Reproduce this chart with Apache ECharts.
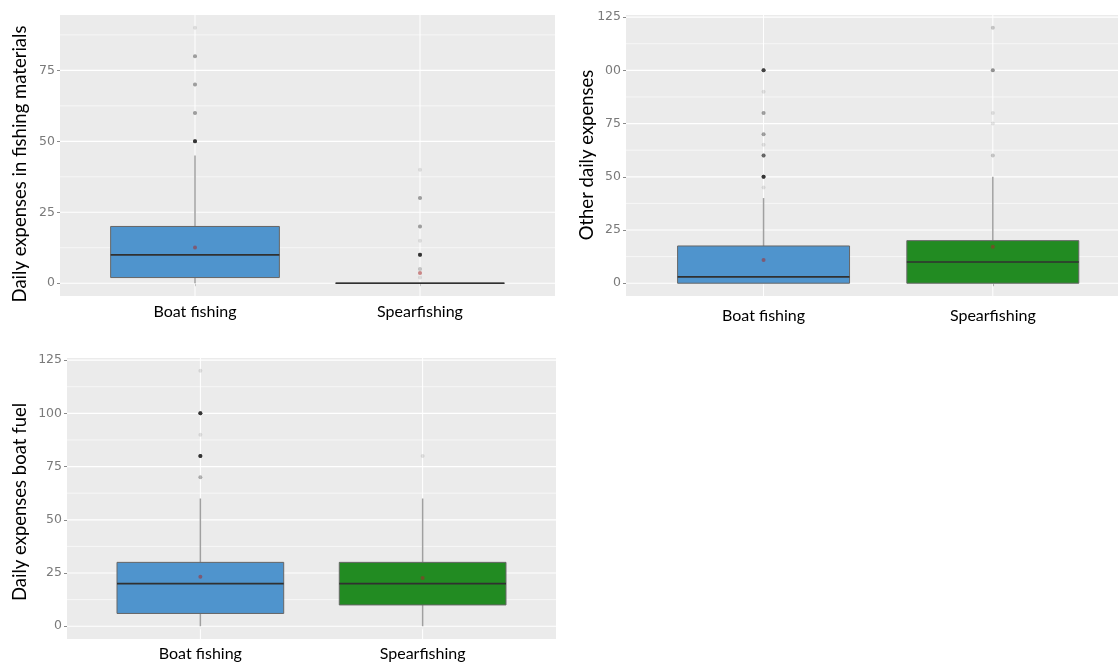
<!DOCTYPE html>
<html><head><meta charset="utf-8">
<script src="https://cdn.jsdelivr.net/npm/echarts@6/dist/echarts.min.js"></script>
<style>html,body{margin:0;padding:0;background:#fff}#c{width:1118px;height:663px}</style>
</head><body><div id="c"></div><script>
// ---------- DATA ----------
const categories = ['Boat fishing', 'Spearfishing'];

const yTicksMaterials = [0, 25, 50, 75];
const yTicksOther = [0, 25, 50, 75, 100, 125];
const yTicksFuel = [0, 25, 50, 75, 100, 125];

// box stats per category: [lower whisker, Q1, median, Q3, upper whisker]
const materialsBoat = [0, 2, 10, 20, 45];
const materialsSpear = [0, 0, 0, 0, 0];
const otherBoat = [0, 0, 3, 17.5, 40];
const otherSpear = [0, 0, 10, 20, 50];
const fuelBoat = [0, 6, 20, 30, 60];
const fuelSpear = [0, 10, 20, 30, 60];

// group means [Boat fishing, Spearfishing]
const meansMaterials = [12.6, 3.6];
const meansOther = [10.9, 17.1];
const meansFuel = [23.2, 22.6];

// outliers: values and number of overlapping observations (estimated from darkness)
const materialsBoatOutliers = [50, 60, 70, 80, 90];
const materialsBoatCounts   = [14, 4, 4, 4, 1];
const materialsSpearOutliers = [40, 30, 20, 15, 10, 5, 2];
const materialsSpearCounts   = [1, 4, 4, 1, 14, 2, 1];
const otherBoatOutliers = [100, 90, 80, 70, 65, 60, 50, 45];
const otherBoatCounts   = [12, 1, 4, 4, 1, 8, 14, 1];
const otherSpearOutliers = [120, 100, 80, 75, 60];
const otherSpearCounts   = [2, 5, 1, 1, 2];
const fuelBoatOutliers = [120, 100, 90, 80, 70];
const fuelBoatCounts   = [1, 14, 1, 14, 3];
const fuelSpearOutliers = [80];
const fuelSpearCounts   = [1];

// ---------- STYLE ----------
const boxFills = ['#4F94CD', '#228B22'];
const BG = '#EBEBEB';
const labelFont = 'Lato';

// ---------- BUILD ----------
const panels = [
  { grid: { left: 60, right: 563, top: 15, height: 281 }, yMin: -4.5, yMax: 94.5, xMax: 2.6,
    ticks: yTicksMaterials, boxes: [materialsBoat, materialsSpear], means: meansMaterials,
    outliers: [[materialsBoatOutliers, materialsBoatCounts], [materialsSpearOutliers, materialsSpearCounts]],
    labelMargin: 8 },
  { grid: { left: 626, right: 0, top: 15, height: 281 }, yMin: -6, yMax: 126, xMax: 2.546,
    ticks: yTicksOther, boxes: [otherBoat, otherSpear], means: meansOther,
    outliers: [[otherBoatOutliers, otherBoatCounts], [otherSpearOutliers, otherSpearCounts]],
    labelMargin: 12 },
  { grid: { left: 67, right: 562, top: 358, height: 281 }, yMin: -6, yMax: 126, xMax: 2.6,
    ticks: yTicksFuel, boxes: [fuelBoat, fuelSpear], means: meansFuel,
    outliers: [[fuelBoatOutliers, fuelBoatCounts], [fuelSpearOutliers, fuelSpearCounts]],
    labelMargin: 7 }
];

const grids = [], xAxes = [], yAxes = [], series = [];

function hLineRender(width) {
  return function (params, api) {
    const cs = params.coordSys;
    const y = api.coord([1, api.value(1)])[1];
    return { type: 'line', shape: { x1: cs.x, y1: y, x2: cs.x + cs.width, y2: y },
      style: { stroke: '#FFFFFF', lineWidth: width } };
  };
}
function vLineRender(params, api) {
  const cs = params.coordSys;
  const x = api.coord([api.value(0), 0])[0];
  return { type: 'line', shape: { x1: x, y1: cs.y, x2: x, y2: cs.y + cs.height },
    style: { stroke: '#FFFFFF', lineWidth: 1 } };
}
function boxRender(params, api) {
  const x = api.value(0);
  const lo = api.value(1), q1 = api.value(2), med = api.value(3), q3 = api.value(4), hi = api.value(5);
  const half = api.size([0.75, 0])[0] / 2;
  const pq1 = api.coord([x, q1]), pq3 = api.coord([x, q3]), pm = api.coord([x, med]);
  const pl = api.coord([x, lo]), ph = api.coord([x, hi]);
  const fill = boxFills[Math.round(x) - 1];
  const children = [];
  if (hi > q3) children.push({ type: 'line', shape: { x1: pq3[0], y1: pq3[1], x2: pq3[0], y2: ph[1] },
    style: { stroke: '#A0A0A0', lineWidth: 1.5 } });
  if (lo < q1) children.push({ type: 'line', shape: { x1: pq1[0], y1: pq1[1], x2: pq1[0], y2: pl[1] },
    style: { stroke: '#A0A0A0', lineWidth: 1.5 } });
  children.push({ type: 'rect', shape: { x: pq1[0] - half, y: pq3[1], width: 2 * half, height: pq1[1] - pq3[1] },
    style: { fill: fill, stroke: '#666666', lineWidth: 1 } });
  children.push({ type: 'line', shape: { x1: pm[0] - half, y1: pm[1], x2: pm[0] + half, y2: pm[1] },
    style: { stroke: '#303030', lineWidth: 1.6 } });
  return { type: 'group', children };
}

panels.forEach((p, i) => {
  grids.push(Object.assign({ show: true, backgroundColor: BG, borderWidth: 0 }, p.grid));
  xAxes.push({
    gridIndex: i, type: 'value', min: 0.4, max: p.xMax,
    axisLine: { show: false }, splitLine: { show: false },
    axisTick: { show: true, length: 3, customValues: [1, 2], lineStyle: { color: '#8A8A8A' } },
    axisLabel: { customValues: [1, 2], margin: p.labelMargin, color: '#000', fontFamily: labelFont, fontSize: 16,
      formatter: v => categories[Math.round(v) - 1] || '' }
  });
  yAxes.push({
    gridIndex: i, type: 'value', min: p.yMin, max: p.yMax,
    axisLine: { show: false }, splitLine: { show: false },
    axisTick: { show: true, length: 3, customValues: p.ticks, lineStyle: { color: '#8A8A8A' } },
    axisLabel: { customValues: p.ticks, margin: 5, color: '#7A7A7A', fontFamily: 'DejaVu Sans', fontSize: 12.5 }
  });
  const minor = [];
  for (let k = 0; k < p.ticks.length; k++) {
    const m = p.ticks[k] + (p.ticks[1] - p.ticks[0]) / 2;
    if (m < p.yMax) minor.push([1, m]);
  }
  series.push({ type: 'custom', xAxisIndex: i, yAxisIndex: i, z: 1, silent: true,
    renderItem: hLineRender(0.6), data: minor, encode: { x: 0, y: 1 } });
  series.push({ type: 'custom', xAxisIndex: i, yAxisIndex: i, z: 1, silent: true,
    renderItem: hLineRender(1.2), data: p.ticks.map(t => [1, t]), encode: { x: 0, y: 1 } });
  series.push({ type: 'custom', xAxisIndex: i, yAxisIndex: i, z: 1, silent: true,
    renderItem: vLineRender, data: [[1, 0], [2, 0]], encode: { x: 0, y: 1 } });
  series.push({ type: 'custom', xAxisIndex: i, yAxisIndex: i, z: 2,
    renderItem: boxRender, data: p.boxes.map((b, j) => [j + 1].concat(b)),
    encode: { x: 0, y: [1, 2, 3, 4, 5] } });
  const pts = [];
  p.outliers.forEach((o, j) => {
    o[0].forEach((v, k) => { for (let n = 0; n < o[1][k]; n++) pts.push([j + 1, v]); });
  });
  series.push({ type: 'scatter', xAxisIndex: i, yAxisIndex: i, z: 3, symbol: 'circle', symbolSize: 4,
    itemStyle: { color: '#000', opacity: 0.1 }, data: pts, emphasis: { disabled: true } });
  series.push({ type: 'scatter', xAxisIndex: i, yAxisIndex: i, z: 4, symbol: 'circle', symbolSize: 4,
    itemStyle: { color: '#A52A2A', opacity: 0.55 }, data: p.means.map((m, j) => [j + 1, m]),
    emphasis: { disabled: true } });
});

const titleStyle = { fontFamily: labelFont, fontSize: 18.5, fill: '#000', align: 'center', verticalAlign: 'middle' };
const option = {
  animation: false,
  grid: grids, xAxis: xAxes, yAxis: yAxes, series: series,
  graphic: [
    { type: 'text', x: 20, y: 164, rotation: Math.PI / 2, z: 100,
      style: Object.assign({ text: 'Daily expenses in fishing materials' }, titleStyle) },
    { type: 'rect', shape: { x: 560, y: 50, width: 44, height: 207 }, z: 99, style: { fill: '#FFFFFF' } },
    { type: 'text', x: 587, y: 155, rotation: Math.PI / 2, z: 100,
      style: Object.assign({ text: 'Other daily expenses' }, titleStyle) },
    { type: 'text', x: 20, y: 502, rotation: Math.PI / 2, z: 100,
      style: Object.assign({ text: 'Daily expenses boat fuel' }, titleStyle) }
  ]
};
const chart = echarts.init(document.getElementById('c'), null, { renderer: 'canvas' });
chart.setOption(option);
</script></body></html>
